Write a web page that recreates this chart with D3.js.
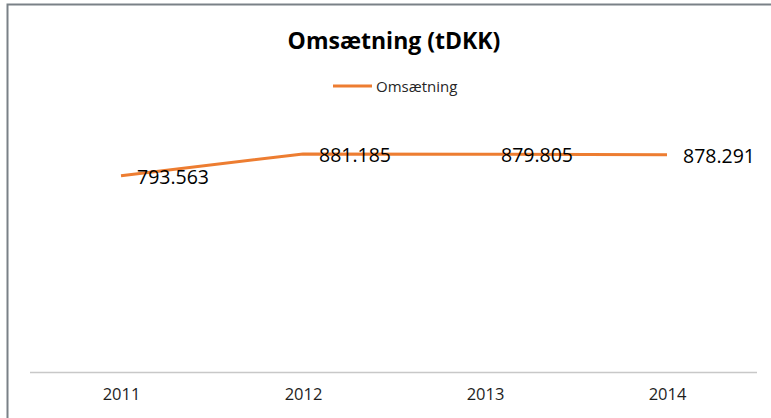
<!DOCTYPE html>
<html>
<head>
<meta charset="utf-8">
<script src="https://cdn.jsdelivr.net/npm/d3@7"></script>
<style>
  html, body { margin: 0; padding: 0; background: #fff; }
  svg { display: block; font-family: "Open Sans", sans-serif; }
</style>
</head>
<body>
<svg id="chart" width="771" height="418"></svg>
<script>
const categories = ["2011", "2012", "2013", "2014"];
const values = [793.563, 881.185, 879.805, 878.291];
const valueLabels = ["793.563", "881.185", "879.805", "878.291"];
const seriesName = "Omsætning";
const title = "Omsætning (tDKK)";
const yDomain = [0, 1000];

const svg = d3.select("#chart");
const W = 771, H = 418;
const orange = "#ed7d31";

// outer chart border
svg.append("rect")
  .attr("x", 7.5).attr("y", 4.5)
  .attr("width", W + 20).attr("height", H + 20)
  .attr("fill", "#fff")
  .attr("stroke", "#7a8187")
  .attr("stroke-width", 2);

const plot = { left: 30, right: 758, top: 124.5, bottom: 372.5 };

const x = d3.scalePoint()
  .domain(categories)
  .range([plot.left, plot.right])
  .padding(0.5);

const y = d3.scaleLinear()
  .domain(yDomain)
  .range([plot.bottom, plot.top]);

// title
svg.append("text")
  .attr("x", 394).attr("y", 48.5)
  .attr("text-anchor", "middle")
  .attr("font-size", 23)
  .attr("font-weight", "bold")
  .attr("fill", "#000")
  .text(title);

// legend
const lg = svg.append("g");
lg.append("line")
  .attr("x1", 333).attr("x2", 372)
  .attr("y1", 86).attr("y2", 86)
  .attr("stroke", orange).attr("stroke-width", 3);
lg.append("text")
  .attr("x", 376).attr("y", 91.5)
  .attr("font-size", 15)
  .attr("fill", "#262626")
  .text(seriesName);

// x axis
const xAxis = d3.axisBottom(x).tickSize(0).tickPadding(16);
const gx = svg.append("g")
  .attr("transform", `translate(0,${plot.bottom})`)
  .call(xAxis);
gx.select(".domain")
  .attr("d", `M${plot.left},0H${plot.right - 1}`)
  .attr("stroke", "#c8c8c8")
  .attr("stroke-width", 1.5);
gx.selectAll(".tick text")
  .attr("font-family", "'Open Sans', sans-serif")
  .attr("font-size", 16.5)
  .attr("fill", "#1e1e1e");

// line
const data = categories.map((c, i) => ({ c, v: values[i], label: valueLabels[i] }));
const line = d3.line()
  .x(d => x(d.c))
  .y(d => y(d.v));

svg.append("path")
  .datum(data)
  .attr("d", line)
  .attr("fill", "none")
  .attr("stroke", orange)
  .attr("stroke-width", 3)
  .attr("stroke-linejoin", "round");

// data labels (right of point)
svg.selectAll(".dlabel")
  .data(data)
  .join("text")
  .attr("class", "dlabel")
  .attr("x", d => x(d.c) + 16)
  .attr("y", d => y(d.v) + 1)
  .attr("dy", "0.35em")
  .attr("font-size", 19.5)
  .attr("fill", "#000")
  .text(d => d.label);
</script>
</body>
</html>
